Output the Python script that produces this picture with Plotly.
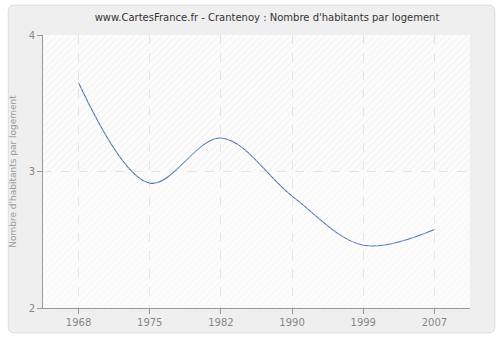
import plotly.graph_objects as go

years = ["1968", "1975", "1982", "1990", "1999", "2007"]
values = [3.65, 2.915, 3.245, 2.82, 2.46, 2.575]
y_ticks = [2, 3, 4]

W, H = 500, 340
ML, MR, MT, MB = 40, 30, 35, 30
PW, PH = W - ML - MR, H - MT - MB

fig = go.Figure()
# hatched background bands on an overlay axis
fig.add_trace(go.Bar(
    x=[0.5, 0.5], y=[0.5, 0.5], base=[0.5, 0.0], width=[1, 1],
    xaxis="x2", yaxis="y2",
    marker=dict(color="rgba(0,0,0,0)", line=dict(width=0),
                pattern=dict(shape="/", fgcolor=["#e6e6e6", "#efefef"],
                             bgcolor="rgba(0,0,0,0)", size=5, solidity=0.2)),
    hoverinfo="skip", showlegend=False,
))
fig.add_trace(go.Scatter(
    x=years, y=values, mode="lines",
    line=dict(color="#4a78b0", width=1.1, shape="spline", smoothing=1.0),
    hoverinfo="skip", showlegend=False,
))

def px(x): return (x - ML) / PW
def py(y): return (H - MB - y) / PH
r = 6
x0, x1, y0, y1 = 5, 495, 5, 335
path = (f"M {px(x0+r)},{py(y0)} L {px(x1-r)},{py(y0)} Q {px(x1)},{py(y0)} {px(x1)},{py(y0+r)} "
        f"L {px(x1)},{py(y1-r)} Q {px(x1)},{py(y1)} {px(x1-r)},{py(y1)} "
        f"L {px(x0+r)},{py(y1)} Q {px(x0)},{py(y1)} {px(x0)},{py(y1-r)} "
        f"L {px(x0)},{py(y0+r)} Q {px(x0)},{py(y0)} {px(x0+r)},{py(y0)} Z")

fig.update_layout(
    width=W, height=H,
    margin=dict(l=ML, r=MR, t=MT, b=MB),
    paper_bgcolor="white",
    plot_bgcolor="white",
    barmode="overlay",
    font=dict(family="DejaVu Sans", size=10, color="#888888"),
    title=dict(text="www.CartesFrance.fr - Crantenoy : Nombre d'habitants par logement",
               x=267/W, xref="container", xanchor="center", y=1 - 17/H, yanchor="middle",
               font=dict(size=10, color="#333333")),
    shapes=[
        dict(type="path", xref="paper", yref="paper", path=path,
             fillcolor="#efefef", line=dict(color="#dcdcdc", width=1), layer="below"),
        dict(type="rect", xref="paper", yref="paper", x0=0, x1=1, y0=0, y1=1,
             fillcolor="#fcfcfc", line=dict(width=0), layer="below"),
    ],
    xaxis=dict(
        type="category", range=[-0.5, 5.5],
        showgrid=True, gridcolor="#e4e4e4", griddash="dash", gridwidth=1,
        showline=True, linecolor="#999999", linewidth=1,
        ticks="outside", ticklen=5, tickcolor="#999999",
        tickfont=dict(size=10, color="#888888"), zeroline=False,
    ),
    yaxis=dict(
        range=[2, 4], tickvals=y_ticks,
        showgrid=True, gridcolor="#e4e4e4", griddash="dash", gridwidth=1,
        showline=True, linecolor="#999999", linewidth=1,
        ticks="outside", ticklen=5, tickcolor="#999999",
        tickfont=dict(size=10, color="#888888"), zeroline=False,
        title=dict(text="Nombre d'habitants par logement", font=dict(size=9, color="#999999"), standoff=10),
    ),
    xaxis2=dict(overlaying="x", range=[0, 1], visible=False, fixedrange=True),
    yaxis2=dict(overlaying="y", range=[0, 1], visible=False, fixedrange=True),
)

fig.write_html("out.html")
